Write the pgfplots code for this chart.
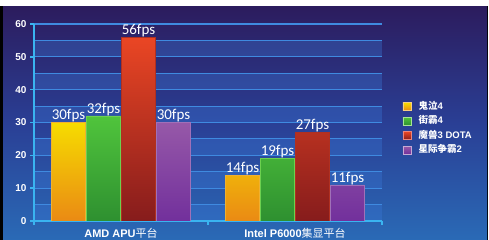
\documentclass[border=0pt]{standalone}
\usepackage{fontspec}
\setmainfont{Liberation Sans}
\newfontfamily\cjk{Noto Sans CJK SC}
\newfontfamily\calib{Carlito}
\usepackage{pgfplots}
\pgfplotsset{compat=1.18}
\definecolor{bgtop}{HTML}{2C1C5E}
\definecolor{bgmid}{HTML}{2A3F95}
\definecolor{bgbot}{HTML}{2A6AB6}
\definecolor{bandcol}{HTML}{3A78D8}
\definecolor{gridcol}{HTML}{3F8AE0}
\definecolor{axiscol}{HTML}{3AB4F0}
\definecolor{yelT}{HTML}{F6DC00}
\definecolor{yelB}{HTML}{EA8A14}
\definecolor{yelE}{HTML}{F0B030}
\definecolor{yelL}{HTML}{F0B000}
\definecolor{grnT}{HTML}{50C43C}
\definecolor{grnB}{HTML}{2E9030}
\definecolor{grnE}{HTML}{6CD050}
\definecolor{grnL}{HTML}{44C040}
\definecolor{redT}{HTML}{EA4624}
\definecolor{redB}{HTML}{861C1C}
\definecolor{redE}{HTML}{B03020}
\definecolor{redL}{HTML}{E03424}
\definecolor{purT}{HTML}{9658A8}
\definecolor{purB}{HTML}{72309C}
\definecolor{purE}{HTML}{A070B8}
\definecolor{purL}{HTML}{9050A8}
\begin{document}
\begin{tikzpicture}
\path[use as bounding box, fill=white] (0pt,0pt) rectangle (489pt,240pt);
\fill[black] (0pt,0pt) rectangle (488pt,234pt);
\shade[top color=bgtop, bottom color=bgbot, middle color=bgmid] (3pt,0pt) rectangle (487pt,233pt);
\foreach \i in {0,...,5} {
  \pgfmathsetmacro{\ya}{19+2*\i*16.4167}
  \pgfmathsetmacro{\yb}{19+(2*\i+1)*16.4167}
  \fill[bandcol, opacity=0.35] (34pt,\ya pt) rectangle (382pt,\yb pt);
}
\begin{axis}[
  width=348pt, height=197pt, scale only axis,
  at={(34pt,19pt)}, anchor=south west,
  xmin=-0.5, xmax=1.5, ymin=0, ymax=60,
  ybar=1pt, bar width=34pt,
  /pgf/number format/assume math mode=true,
  axis x line=bottom, axis y line=left,
  axis line style={-, draw=axiscol, line width=1.6pt},
  x axis line style={shorten <=-4pt},
  ytick={0,10,...,60}, minor ytick={5,15,...,55},
  ymajorgrids, yminorgrids,
  major grid style={draw=gridcol, line width=1.1pt},
  minor grid style={draw=gridcol, line width=1.1pt},
  xtick={-0.5,0.5,1.5}, xticklabels={,,},
  extra x ticks={0,1},
  extra x tick labels={{\bfseries AMD APU{\cjk\mdseries 平台}},{\bfseries Intel P6000{\cjk\mdseries 集显平台}}},
  extra x tick style={major tick length=0pt, xmajorgrids=false,
     tick label style={anchor=base, yshift=-17pt}},
  xticklabel style={text=white, font=\fontsize{11}{12}\selectfont},
  tick align=outside, major tick length=4pt, minor tick length=0pt,
  tick style={draw=axiscol, line width=1.4pt},
  yticklabel style={text=white, font=\bfseries\fontsize{10}{12}\selectfont},
  nodes near coords={\pgfmathprintnumber{\pgfplotspointmeta}fps},
  every node near coord/.append style={font=\calib\fontsize{15}{15}\selectfont, text=white, inner sep=0pt, anchor=south},
  legend style={at={(1.05,0.47)}, anchor=west, draw=none, fill=none, text=white,
     font=\bfseries\fontsize{9.5}{10}\selectfont, row sep=2pt,
     nodes={inner sep=1.5pt, text height=7.5pt, text depth=2pt}},
  legend cell align=left,
]
\addplot[draw=yelE, line width=0.6pt, top color=yelT, bottom color=yelB,
  legend image code/.code={\draw[draw=yelE!60!white, fill=yelL, line width=0.6pt] (0pt,-4pt) rectangle (8pt,4pt); \path (14pt,0pt);}]
  coordinates {(0,30) (1,14)};
\addplot[draw=grnE, line width=0.6pt, top color=grnT, bottom color=grnB,
  legend image code/.code={\draw[draw=grnE!60!white, fill=grnL, line width=0.6pt] (0pt,-4pt) rectangle (8pt,4pt); \path (14pt,0pt);}]
  coordinates {(0,32) (1,19)};
\addplot[draw=redE, line width=0.6pt, top color=redT, bottom color=redB,
  legend image code/.code={\draw[draw=redL!60!white, fill=redL, line width=0.6pt] (0pt,-4pt) rectangle (8pt,4pt); \path (14pt,0pt);}]
  coordinates {(0,56) (1,27)};
\addplot[draw=purE, line width=0.6pt, top color=purT, bottom color=purB,
  legend image code/.code={\draw[draw=purE!60!white, fill=purL, line width=0.6pt] (0pt,-4pt) rectangle (8pt,4pt); \path (14pt,0pt);}]
  coordinates {(0,30) (1,11)};
\legend{{\cjk\bfseries 鬼泣}4,{\cjk\bfseries 街霸}4,{\cjk\bfseries 魔兽}3 DOTA,{\cjk\bfseries 星际争霸}2}
\end{axis}
\end{tikzpicture}
\end{document}
